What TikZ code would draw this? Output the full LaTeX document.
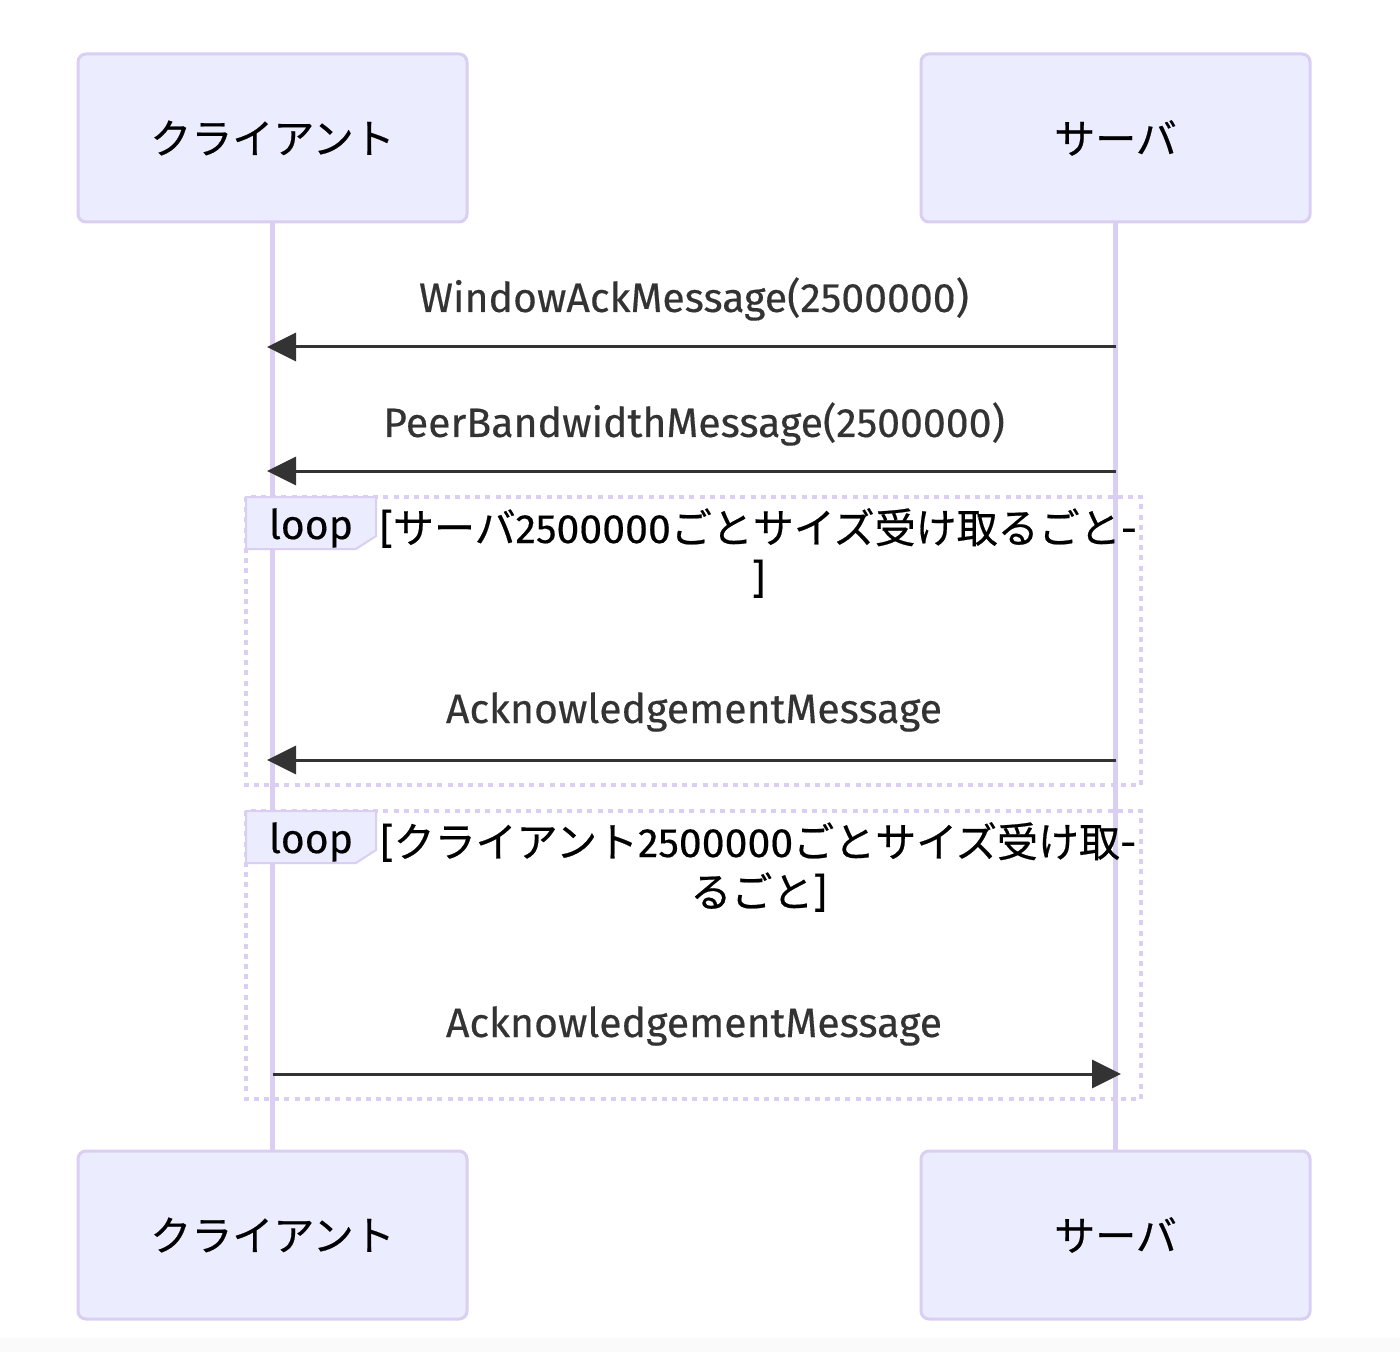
\documentclass[tikz,border=0pt]{standalone}
\usepackage{fontspec}
\setmainfont{Fira Sans}[FakeBold=0.35]
\newfontfamily\cjk{Noto Sans CJK JP}[FakeBold=0.5]
\usetikzlibrary{arrows.meta}
\definecolor{lav}{RGB}{218,206,243}
\definecolor{actfill}{RGB}{236,236,255}
\definecolor{ink}{RGB}{51,51,51}
\tikzset{
  actor/.style={draw=lav, fill=actfill, line width=1.5pt, rounded corners=4pt,
    minimum width=194.5pt, minimum height=84pt, inner sep=0pt,
    font=\cjk\fontsize{20.5}{24}\selectfont, text=black},
  life/.style={draw=lav, line width=2.2pt},
  msg/.style={draw=ink, line width=1.5pt, -{Triangle[length=14.5pt,width=14pt]}},
  msglabel/.style={font=\fontsize{20.5}{24}\selectfont, text=ink, inner sep=0pt},
  loopframe/.style={draw=lav, line width=2pt, dash pattern=on 2.5pt off 2.6pt},
  looplabel/.style={draw=lav, fill=actfill, line width=1pt},
  looptext/.style={font=\fontsize{20.5}{25}\selectfont, text=black, align=center, inner sep=0pt},
}
\begin{document}
\begin{tikzpicture}[x=0.5pt,y=-0.5pt]
\useasboundingbox (0,0) rectangle (1400,1352);
\fill[white] (0,0) rectangle (1400,1352);
\fill[black!2] (0,1338) rectangle (1400,1352);

% actors
\node[actor] (c1) at (272.5,138) {クライアント};
\node[actor] (s1) at (1115.5,138) {サーバ};
\node[actor] (c2) at (272.5,1235) {クライアント};
\node[actor] (s2) at (1115.5,1235) {サーバ};

% lifelines
\draw[life] (c1.south) -- (c2.north);
\draw[life] (s1.south) -- (s2.north);

% loop frames
\draw[loopframe] (246,497) rectangle (1141,785);
\draw[loopframe] (246,811) rectangle (1141,1099);
\draw[looplabel] (246,497) -- (376,497) -- (376,536) -- (356,549) -- (246,549) -- cycle;
\draw[looplabel] (246,811) -- (376,811) -- (376,850) -- (356,863) -- (246,863) -- cycle;
\node[msglabel, text=black] (l1) at (311,528) {loop};
\node[msglabel, text=black] (l2) at (311,842) {loop};
\node[looptext] (t1) at (758.5,553) {[{\cjk サーバ}2500000{\cjk ごとサイズ受け取るごと}-\\]};
\node[looptext] (t2) at (758.5,867) {[{\cjk クライアント}2500000{\cjk ごとサイズ受け取}-\\{\cjk るごと}]};

% message endpoints
\coordinate (a1) at (1115.5,347); \coordinate (b1) at (267,347);
\coordinate (a2) at (1115.5,471); \coordinate (b2) at (267,471);
\coordinate (a3) at (1115.5,760); \coordinate (b3) at (267,760);
\coordinate (a4) at (272.5,1074); \coordinate (b4) at (1121,1074);

\draw[msg] (a1) -- (b1);
\draw[msg] (a2) -- (b2);
\draw[msg] (a3) -- (b3);
\draw[msg] (a4) -- (b4);

\node[msglabel] (m1) at (694,299) {WindowAckMessage(2500000)};
\node[msglabel] (m2) at (694,424) {PeerBandwidthMessage(2500000)};
\node[msglabel] (m3) at (694,712) {AcknowledgementMessage};
\node[msglabel] (m4) at (694,1026) {AcknowledgementMessage};
\end{tikzpicture}
\end{document}
